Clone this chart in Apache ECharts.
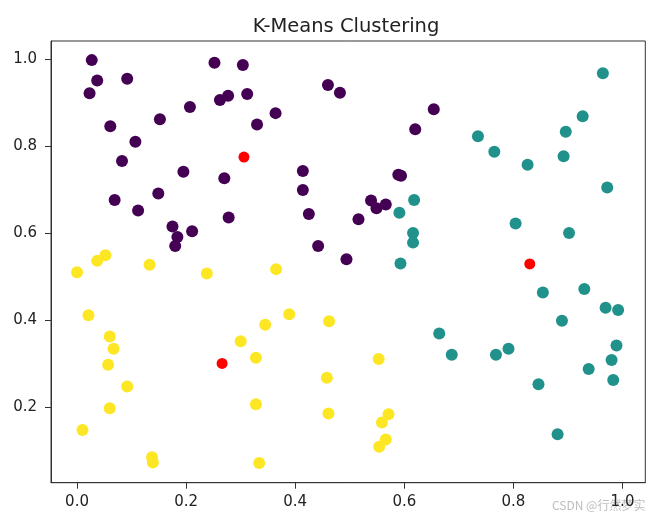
<!DOCTYPE html>
<html>
<head>
<meta charset="utf-8">
<script src="https://cdn.jsdelivr.net/npm/echarts@6/dist/echarts.min.js"></script>
<style>html,body{margin:0;padding:0;background:#fff}#c{width:655px;height:522px}</style>
</head>
<body>
<div id="c"></div>
<script>
const title = "K-Means Clustering";
const xTicks = [0.0, 0.2, 0.4, 0.6, 0.8, 1.0];
const yTicks = [0.2, 0.4, 0.6, 0.8, 1.0];

const cluster0 = [
  [0.027,0.998],[0.037,0.951],[0.023,0.922],[0.092,0.955],[0.252,0.992],[0.304,0.987],
  [0.277,0.916],[0.262,0.906],[0.312,0.920],[0.207,0.890],[0.152,0.862],[0.364,0.876],
  [0.330,0.850],[0.061,0.846],[0.107,0.810],[0.0825,0.766],[0.195,0.741],[0.270,0.726],
  [0.414,0.743],[0.414,0.699],[0.069,0.676],[0.149,0.691],[0.112,0.652],[0.278,0.636],
  [0.425,0.644],[0.175,0.615],[0.184,0.591],[0.180,0.570],[0.211,0.604],[0.442,0.570],
  [0.460,0.941],[0.482,0.923],[0.654,0.885],[0.620,0.839],[0.589,0.734],[0.594,0.732],
  [0.539,0.675],[0.549,0.657],[0.566,0.666],[0.516,0.632],[0.494,0.540]
];
const cluster1 = [
  [0.964,0.968],[0.927,0.869],[0.896,0.833],[0.735,0.823],[0.765,0.787],[0.826,0.757],
  [0.892,0.777],[0.972,0.705],[0.618,0.676],[0.591,0.647],[0.804,0.622],[0.902,0.600],
  [0.616,0.600],[0.616,0.578],[0.593,0.530],[0.854,0.463],[0.930,0.471],[0.969,0.428],
  [0.992,0.423],[0.889,0.398],[0.664,0.369],[0.687,0.320],[0.768,0.320],[0.791,0.334],
  [0.989,0.341],[0.980,0.308],[0.938,0.287],[0.983,0.262],[0.846,0.252],[0.881,0.137]
];
const cluster2 = [
  [0.000,0.510],[0.037,0.536],[0.052,0.549],[0.133,0.527],[0.238,0.507],[0.365,0.517],
  [0.021,0.411],[0.060,0.362],[0.067,0.334],[0.057,0.297],[0.092,0.247],[0.060,0.197],
  [0.010,0.147],[0.1375,0.084],[0.139,0.072],[0.300,0.351],[0.345,0.389],[0.389,0.413],
  [0.328,0.313],[0.328,0.206],[0.334,0.071],[0.462,0.397],[0.458,0.267],[0.461,0.185],
  [0.553,0.310],[0.571,0.183],[0.559,0.164],[0.566,0.125],[0.554,0.108]
];
const centroids = [[0.306,0.775],[0.266,0.300],[0.830,0.529]];

const fontFam = "DejaVu Sans";
const chart = echarts.init(document.getElementById('c'), null, {renderer:'canvas'});
const axisCommon = {
  axisLine:{show:true, onZero:false, lineStyle:{color:'#333', width:1}},
  axisTick:{show:true, length:6, lineStyle:{color:'#333', width:1}},
  splitLine:{show:false},
  axisLabel:{color:'#222', fontSize:15, fontFamily:fontFam, margin:13, formatter:v=>Number(v).toFixed(1)}
};
const sc = (data,color,size)=>({type:'scatter', data, symbolSize:size, itemStyle:{color, opacity:1}, silent:true, animation:false});
chart.setOption({
  animation:false,
  title:{text:title, left:341, top:12, textAlign:'center', textStyle:{fontFamily:fontFam, fontSize:19.5, fontWeight:'normal', color:'#222'}},
  grid:{left:51, top:41, right:9.7, bottom:39.3, show:true, borderColor:'#333', borderWidth:1, backgroundColor:'transparent'},
  xAxis:Object.assign({type:'value', min:-0.0477, max:1.0418}, axisCommon, {
    axisTick:Object.assign({}, axisCommon.axisTick, {customValues:xTicks}),
    axisLabel:Object.assign({}, axisCommon.axisLabel, {customValues:xTicks, margin:12})
  }),
  yAxis:Object.assign({type:'value', min:0.0255, max:1.042}, axisCommon, {
    axisTick:Object.assign({}, axisCommon.axisTick, {customValues:yTicks}),
    axisLabel:Object.assign({}, axisCommon.axisLabel, {customValues:yTicks, margin:14})
  }),
  series:[
    sc(cluster0,'#440154',12),
    sc(cluster1,'#21918c',12),
    sc(cluster2,'#fde725',12),
    sc(centroids,'#ff0000',11)
  ],
  graphic:[{type:'text', left:552, top:499, z:-1, style:{text:'CSDN @行然梦实', fill:'#bdbdbd', font:'12px "Noto Sans CJK SC", sans-serif'}}]
});
</script>
</body>
</html>
